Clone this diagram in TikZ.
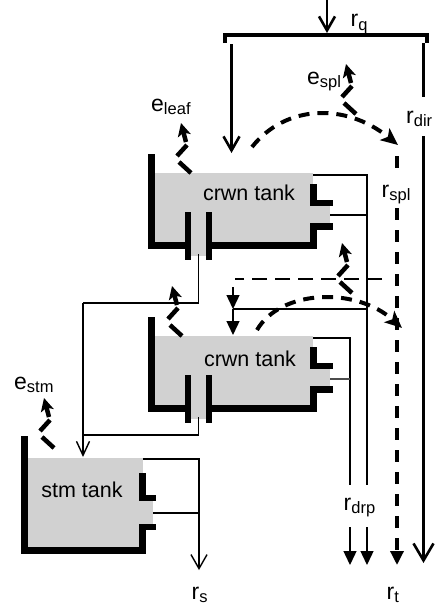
\documentclass[tikz,border=0pt]{standalone}
\usepackage{fontspec}
\setmainfont{Liberation Sans}
\usetikzlibrary{arrows.meta}
\newcommand{\lbl}[2]{{\fontsize{23}{24}\selectfont #1\raisebox{-3.5pt}{\fontsize{16.5}{17}\selectfont #2}}}
\newcommand{\tanktext}[1]{{\fontsize{21.5}{22}\selectfont #1}}
\tikzset{
  tankfill/.style={fill=black!18},
  wall/.style={fill=black},
  thinline/.style={line width=1.4pt},
  flowline/.style={line width=2.6pt},
  dashthick/.style={line width=4pt, dash pattern=on 11pt off 8pt},
  splline/.style={line width=3.3pt, dash pattern=on 12pt off 10pt},
  zigline/.style={line width=4.5pt},
  lab/.style={anchor=base west, inner sep=0pt},
  openhead/.tip={Straight Barb[length=14pt,width=16pt]},
  bighead/.tip={Straight Barb[length=17pt,width=20pt]},
  fullhead/.tip={Triangle[length=14pt,width=13pt]},
  dashhead/.tip={Stealth[length=17pt,width=15pt,inset=4pt]},
  zig/.pic={
    \draw[zigline] (0,0) -- (-12,-11);
    \draw[zigline] (-14,-17) -- (-4,-28);
    \draw[zigline,-{Stealth[length=13pt,width=13pt,inset=3pt]}] (-5,-31) -- (-10,-50);
  }
}
\newcommand{\crwnwalls}{%
  \fill[tankfill] (155,173) rectangle (313,242);
  \fill[tankfill] (310,206) rectangle (330,223);
  \fill[tankfill] (191,242) rectangle (206,256);
  \fill[wall] (148,154) rectangle (155,249);
  \fill[wall] (148,242) rectangle (191,249);
  \fill[wall] (206,242) rectangle (317,249);
  \fill[wall] (185,212) rectangle (191,260);
  \fill[wall] (206,212) rectangle (212,260);
  \fill[wall] (310,223) rectangle (317,249);
  \fill[wall] (310,223) rectangle (333,230);
  \fill[wall] (310,184) rectangle (317,206);
  \fill[wall] (310,200) rectangle (333,206);
}
\begin{document}
\begin{tikzpicture}[x=1pt,y=-1pt]
\useasboundingbox (0,0) rectangle (435,605);

% --- top crown tank
\crwnwalls
% --- second crown tank
\begin{scope}[shift={(0,163)}]
\crwnwalls
\end{scope}
% --- stem tank
\fill[tankfill] (28,458) rectangle (143,547);
\fill[tankfill] (143,501) rectangle (153,524);
\fill[wall] (21,436) rectangle (28,554);
\fill[wall] (21,547) rectangle (146,554);
\fill[wall] (139,524) rectangle (146,554);
\fill[wall] (139,524) rectangle (156,530);
\fill[wall] (139,473) rectangle (146,501);
\fill[wall] (139,495) rectangle (156,501);

% tank labels
\node[anchor=base] (t1) at (249,200) {\tanktext{crwn tank}};
\node[anchor=base] (t2) at (250,366) {\tanktext{crwn tank}};
\node[anchor=base] (ts) at (82,497) {\tanktext{stm tank}};

% gross rainfall
\draw[flowline,-{openhead}] (327,0) -- (327,33);
\node[lab] (rq) at (350.5,27) {\lbl{r}{q}};
\draw[line width=3.5pt] (225,43) -- (225,35) -- (427,35) -- (427,43);
\draw[flowline,-{openhead}] (231.5,44) -- (231.5,153);
\draw[flowline] (423.5,43) -- (423.5,97);
\node[lab] (rdir) at (406,123) {\lbl{r}{dir}};
\draw[flowline,-{bighead}] (423.5,136) -- (423.5,563);

% splash arcs
\draw[dashthick,-{dashhead}] (252,147) .. controls (285,105) and (345,102) .. (398,145);
\draw[dashthick,-{dashhead}] (257,330) .. controls (280,290) and (355,286) .. (402,328);
\draw[splline] (397,156) -- (397,176);
\node[lab] (rspl) at (381.5,197) {\lbl{r}{spl}};
\draw[splline,-{fullhead}] (397,208) -- (397,565);
\draw[line width=2.6pt, dash pattern=on 15pt off 8pt] (382,279) -- (235,279);

% evaporation arrows
\pic at (191,173) {zig};
\node[lab] (eleaf) at (151,111) {\lbl{e}{leaf}};
\pic at (356,114) {zig};
\node[lab] (espl) at (307,84) {\lbl{e}{spl}};
\pic at (182,336) {zig};
\pic at (352,293) {zig};
\pic at (54,448) {zig};
\node[lab] (estm) at (14,389) {\lbl{e}{stm}};

% drainage from top crown tank
\draw[thinline] (313,175) -- (367,175) -- (367,485);
\draw[thinline] (330,215) -- (367,215);
\draw[thinline,-{fullhead}] (367,527) -- (367,565);
\draw[thinline] (367,309) -- (233,309);
\draw[thinline,-{fullhead}] (233,309) -- (233,335);
\draw[thinline,-{fullhead}] (233,287) -- (233,309);
% drainage from second crown tank
\draw[thinline] (313,338) -- (350,338) -- (350,485);
\draw[thinline, black!70] (330,379) -- (350,379);
\draw[thinline,-{fullhead}] (350,527) -- (350,565);
\node[lab] (rdrp) at (343.5,510) {\lbl{r}{drp}};
% stem flow
\draw[thinline] (198.5,254) -- (198.5,303) -- (83,303);
\draw[thinline] (198.5,417) -- (198.5,435) -- (83,435);
\draw[thinline,-{Straight Barb[length=14pt,width=13pt]}] (83,303) -- (83,457);
\draw[thinline] (143,459) -- (199,459) -- (199,485);
\draw[thinline] (153,513) -- (199,513);
\draw[thinline,-{openhead}] (199,485) -- (199,570);
\node[lab] (rs) at (191.5,599) {\lbl{r}{s}};
\node[lab] (rt) at (386.5,599) {\lbl{r}{t}};
\end{tikzpicture}
\end{document}
